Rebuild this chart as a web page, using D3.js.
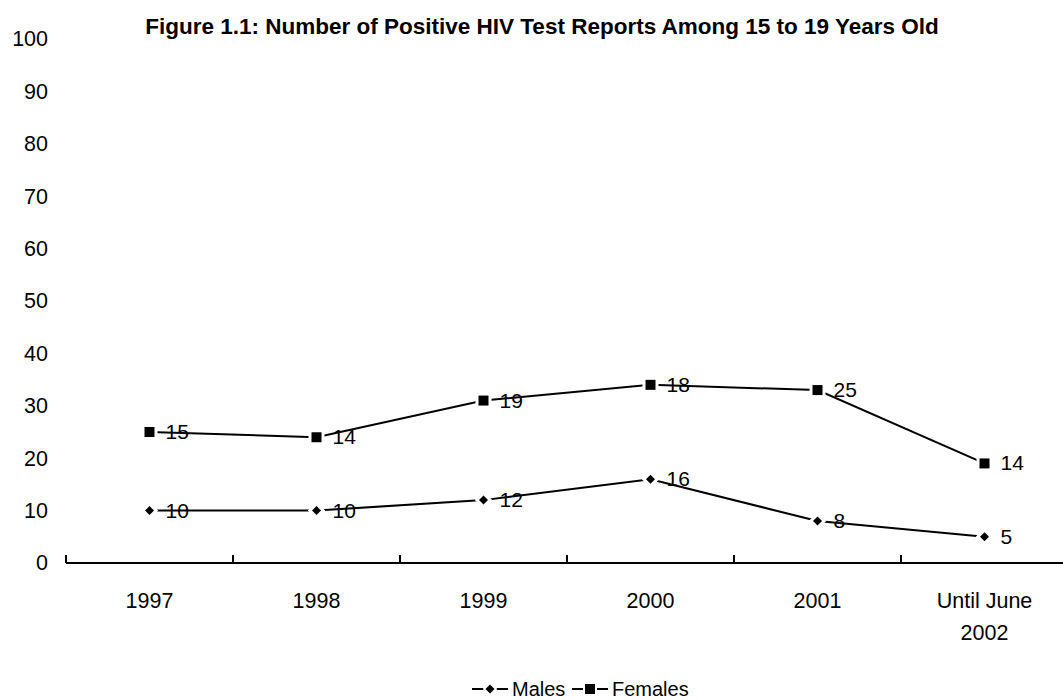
<!DOCTYPE html>
<html>
<head>
<meta charset="utf-8">
<script src="https://cdn.jsdelivr.net/npm/d3@7"></script>
<style>
  html, body { margin: 0; padding: 0; background: #fff; }
  svg { display: block; font-family: "Liberation Sans", Arial, sans-serif; }
</style>
</head>
<body>
<svg id="chart" width="1063" height="700"></svg>
<script>
// Positive HIV test reports among 15-19 year olds, by period
const categories = ["1997", "1998", "1999", "2000", "2001", "Until June 2002"];
const males = [10, 10, 12, 16, 8, 5];
const females = [15, 14, 19, 18, 25, 14];
const yTicks = [0, 10, 20, 30, 40, 50, 60, 70, 80, 90, 100];

// Females are stacked on top of males; labels show each series' own count
const femalesStacked = females.map((v, i) => v + males[i]);

const svg = d3.select("#chart");

const x = d3.scaleBand().domain(categories).range([66, 1068]);
const y = d3.scaleLinear().domain([0, 100]).range([563, 39]);
const cx = c => x(c) + x.bandwidth() / 2;

// Marker shapes: a square-ish diamond and a filled square
const diamond = r => `M0,${-r}L${r},0L0,${r}L${-r},0Z`;
const square = r => `M${-r},${-r}H${r}V${r}H${-r}Z`;

// Title
svg.append("text")
  .attr("x", 542).attr("y", 34)
  .attr("text-anchor", "middle")
  .attr("font-weight", "bold")
  .attr("font-size", 22.5)
  .text("Figure 1.1: Number of Positive HIV Test Reports Among 15 to 19 Years Old");

// Y axis: labels only
const yAxis = d3.axisLeft(y).tickValues(yTicks).tickSize(0).tickPadding(0);
const yg = svg.append("g").attr("transform", "translate(48,0)").call(yAxis);
yg.select(".domain").remove();
yg.selectAll("text").attr("font-size", 21.5).attr("font-family", "Liberation Sans, Arial, sans-serif").attr("fill", "#000");

// X axis line with ticks at category boundaries
const xg = svg.append("g");
xg.append("line")
  .attr("x1", 66).attr("x2", 1068)
  .attr("y1", 563).attr("y2", 563)
  .attr("stroke", "#000").attr("stroke-width", 2);
const boundaries = categories.map(c => x(c)).concat([x.range()[1]]);
xg.selectAll("line.tick").data(boundaries).enter().append("line")
  .attr("class", "tick")
  .attr("x1", d => d).attr("x2", d => d)
  .attr("y1", 563).attr("y2", 555)
  .attr("stroke", "#000").attr("stroke-width", 2);

// Category labels (wrapped onto two lines where needed)
const labelLines = { "Until June 2002": ["Until June", "2002"] };
categories.forEach(c => {
  const lines = labelLines[c] || [c];
  const t = xg.append("text")
    .attr("x", cx(c)).attr("y", 608)
    .attr("text-anchor", "middle")
    .attr("font-size", 21.5);
  lines.forEach((ln, i) => {
    t.append("tspan").attr("x", cx(c)).attr("dy", i === 0 ? 0 : 32).text(ln);
  });
});

// Series
const line = d3.line().x((d, i) => cx(categories[i])).y(d => y(d));
const series = [
  { name: "Males", plotted: males, labels: males, shape: diamond(4.5) },
  { name: "Females", plotted: femalesStacked, labels: females, shape: square(5) }
];

series.forEach(s => {
  const g = svg.append("g");
  g.append("path")
    .datum(s.plotted)
    .attr("d", line)
    .attr("fill", "none")
    .attr("stroke", "#000")
    .attr("stroke-width", 2);
  g.selectAll("path.marker").data(s.plotted).enter().append("path")
    .attr("class", "marker")
    .attr("d", s.shape)
    .attr("transform", (d, i) => `translate(${cx(categories[i])},${y(d)})`)
    .attr("fill", "#000")
    .attr("stroke", "#fff")
    .attr("stroke-width", 6)
    .attr("paint-order", "stroke");
  g.selectAll("text.val").data(s.plotted).enter().append("text")
    .attr("class", "val")
    .attr("x", (d, i) => cx(categories[i]) + 16)
    .attr("y", d => y(d) + 7)
    .attr("font-size", 21)
    .text((d, i) => s.labels[i]);
});

// Legend
const legend = svg.append("g").attr("transform", "translate(0,689)");
const legendItems = [
  { name: "Males", x0: 472, shape: diamond(4.5) },
  { name: "Females", x0: 572, shape: square(5) }
];
legendItems.forEach(it => {
  legend.append("line")
    .attr("x1", it.x0).attr("x2", it.x0 + 36)
    .attr("y1", 0).attr("y2", 0)
    .attr("stroke", "#000").attr("stroke-width", 2);
  legend.append("path")
    .attr("d", it.shape)
    .attr("transform", `translate(${it.x0 + 18},0)`)
    .attr("fill", "#000").attr("stroke", "#fff").attr("stroke-width", 4)
    .attr("paint-order", "stroke");
  legend.append("text")
    .attr("x", it.x0 + 40).attr("y", 7)
    .attr("font-size", 20)
    .text(it.name);
});
</script>
</body>
</html>
